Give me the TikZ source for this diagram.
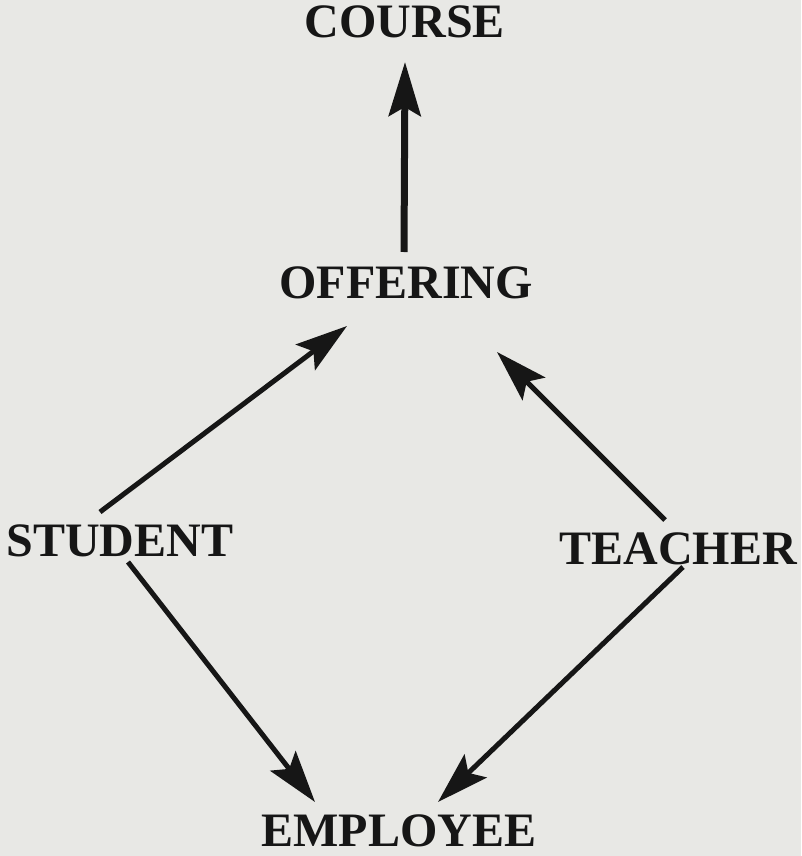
\documentclass[tikz,border=0pt]{standalone}
\usepackage{fontspec}
\setmainfont{Liberation Serif}
\usetikzlibrary{calc,arrows.meta}
\definecolor{bgpaper}{RGB}{232,232,229}
\definecolor{inkc}{RGB}{22,22,22}
\tikzset{
  lbl/.style={inner sep=0pt, text=inkc, font=\bfseries\fontsize{48}{52}\selectfont},
  bigarrow/.style={draw=inkc, line width=7pt, -{Stealth[length=54pt,width=32pt,inset=9pt]}},
  diagarrow/.style={draw=inkc, line width=5pt, -{Stealth[length=52pt,width=32pt,inset=10pt]}}
}
\begin{document}
\begin{tikzpicture}[x=1pt,y=-1pt]
\fill[bgpaper] (0,0) rectangle (801,856);
\useasboundingbox (0,0) rectangle (801,856);
\node[lbl] (course) at (405,22) {COURSE};
\node[lbl] (offering) at (406,283) {OFFERING};
\node[lbl] (student) at (120,541) {STUDENT};
\node[lbl] (teacher) at (678,549) {TEACHER};
\node[lbl] (employee) at (399,831) {EMPLOYEE};
\draw[bigarrow] ($(offering)+(-2,-31)$) -- ($(course)+(0,40)$);
\draw[diagarrow] ($(student)+(-20,-29)$) -- ($(offering)+(-59,43)$);
\draw[diagarrow] ($(teacher)+(-13,-29)$) -- ($(offering)+(91,69)$);
\draw[diagarrow] ($(student)+(8,21)$) -- ($(employee)+(-84,-29)$);
\draw[diagarrow] ($(teacher)+(5,18)$) -- ($(employee)+(39,-29)$);
\end{tikzpicture}
\end{document}
